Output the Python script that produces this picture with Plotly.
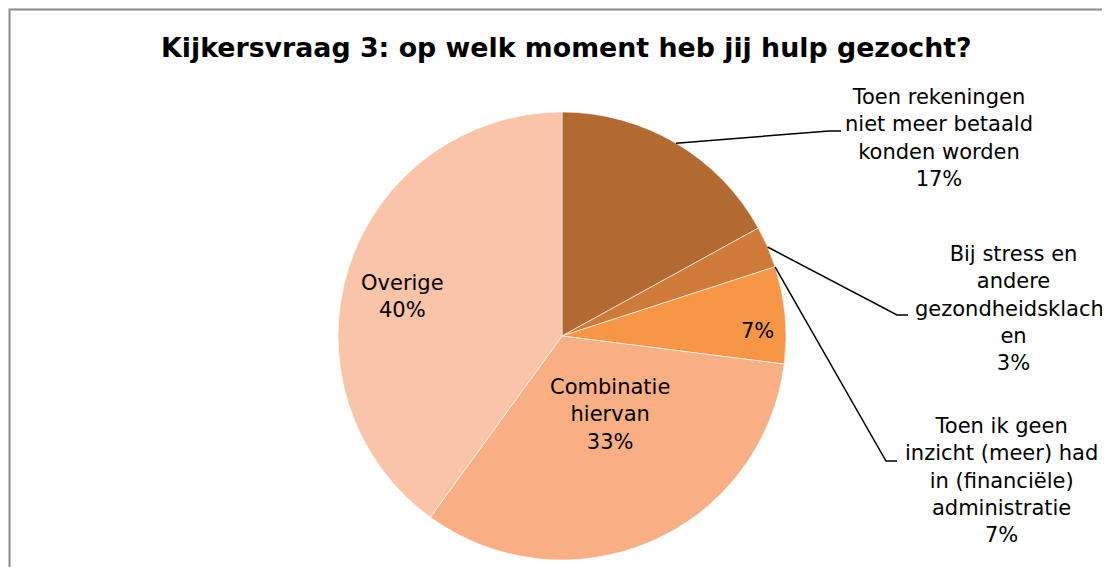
import math
import plotly.graph_objects as go

# ---- data ----
categories = [
    "Toen rekeningen niet meer betaald konden worden",
    "Bij stress en andere gezondheidsklachten",
    "Toen ik geen inzicht (meer) had in (financiële) administratie",
    "Combinatie hiervan",
    "Overige",
]
values = [17, 3, 7, 33, 40]
colors = ["#B06A32", "#CE7A3A", "#F79646", "#F8AF84", "#F9C4A8"]

# label texts (as shown in chart)
label_texts = [
    "Toen rekeningen<br>niet meer betaald<br>konden worden<br>17%",
    "Bij stress en<br>andere<br>gezondheidsklacht<br>en<br>3%",
    "7%",
    "Combinatie<br>hiervan<br>33%",
    "Overige<br>40%",
]
outside_label = "Toen ik geen<br>inzicht (meer) had<br>in (financiële)<br>administratie<br>7%"
title_text = "Kijkersvraag 3: op welk moment heb jij hulp gezocht?"

# ---- layout geometry (screen pixels; page has 8px body margin) ----
W, H = 1110, 567
OFF = 8
CX, CY, R = 562, 336, 224

def px(x):
    return (x - OFF) / W

def py(y):
    return 1 - (y - OFF) / H

fig = go.Figure(go.Pie(
    labels=categories,
    values=values,
    marker=dict(colors=colors, line=dict(color="white", width=0.6)),
    sort=False,
    direction="clockwise",
    rotation=0,
    textinfo="none",
    hoverinfo="label+percent",
    showlegend=False,
    domain=dict(x=[px(CX - R), px(CX + R)], y=[py(CY + R), py(CY - R)]),
))

total = sum(values)
cum = [0]
for v in values:
    cum.append(cum[-1] + v)

def edge_point(frac):
    a = 2 * math.pi * frac
    return CX + R * math.sin(a), CY - R * math.cos(a)

# leader lines: (angle fraction, elbow pixel, end pixel)
leaders = [
    ((cum[0] + values[0] / 2) / total, (829, 131), (841, 131)),
    ((cum[1] + values[1] / 2) / total, (897, 315), (908, 315)),
    (cum[2] / total, (886, 461), (897, 461)),
]
shapes = []
for frac, elbow, end in leaders:
    sx, sy = edge_point(frac)
    path = f"M {px(sx)} {py(sy)} L {px(elbow[0])} {py(elbow[1])} L {px(end[0])} {py(end[1])}"
    shapes.append(dict(type="path", xref="paper", yref="paper", path=path,
                       line=dict(color="black", width=1.5)))

# border of chart area
shapes.append(dict(type="rect", xref="paper", yref="paper",
                   x0=px(9.5), y0=py(620), x1=px(1200), y1=py(9.5),
                   line=dict(color="#8C8C8C", width=2), fillcolor="rgba(0,0,0,0)"))

label_pos = [(939, 138), (1013, 308), (757, 331), (610, 414), (402, 296)]
annotations = []
for t, (x, y) in zip(label_texts, label_pos):
    annotations.append(dict(text=t, x=px(x), y=py(y), xref="paper", yref="paper",
                            showarrow=False, xanchor="center", yanchor="middle",
                            align="center", font=dict(size=21, color="black")))
annotations.append(dict(text=outside_label, x=px(1001), y=py(480), xref="paper", yref="paper",
                        showarrow=False, xanchor="center", yanchor="middle",
                        align="center", font=dict(size=21, color="black")))
annotations.append(dict(text="<b>" + title_text + "</b>",
                        x=px(566.5), y=py(47), xref="paper", yref="paper",
                        showarrow=False, xanchor="center", yanchor="middle",
                        font=dict(size=26.8, color="black")))

fig.update_layout(
    width=W, height=H,
    margin=dict(l=0, r=0, t=0, b=0),
    paper_bgcolor="white",
    plot_bgcolor="white",
    font=dict(family="Verdana, 'DejaVu Sans', sans-serif", color="black"),
    shapes=shapes,
    annotations=annotations,
)

fig.write_html("out.html")
